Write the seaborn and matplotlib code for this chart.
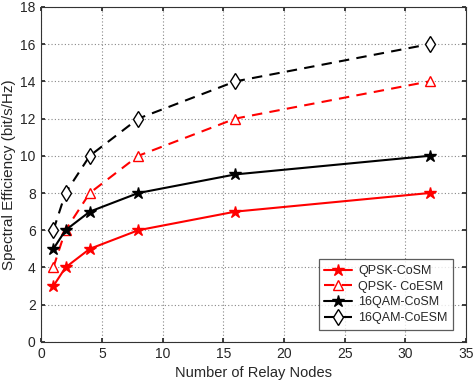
import matplotlib
matplotlib.use("Agg")
import matplotlib.pyplot as plt
import seaborn as sns
import pandas as pd

relay_nodes = [1, 2, 4, 8, 16, 32]
qpsk_cosm = [3, 4, 5, 6, 7, 8]
qpsk_coesm = [4, 6, 8, 10, 12, 14]
qam16_cosm = [5, 6, 7, 8, 9, 10]
qam16_coesm = [6, 8, 10, 12, 14, 16]
labels = ["QPSK-CoSM", "QPSK- CoESM", "16QAM-CoSM", "16QAM-CoESM"]

sns.set_theme(style="white")
plt.rcParams['font.family'] = ['Liberation Sans', 'DejaVu Sans']

fig = plt.figure(figsize=(4.74, 3.85), dpi=100)
ax = fig.add_axes([0.087, 0.112, 0.896, 0.87])

series = [qpsk_cosm, qpsk_coesm, qam16_cosm, qam16_coesm]
styles = [
    dict(color="red", linestyle="-", marker="*", markersize=9, mfc="red", mec="red"),
    dict(color="red", linestyle=(0, (5, 3.5)), marker="^", markersize=7, mfc="white", mec="red"),
    dict(color="black", linestyle="-", marker="*", markersize=9, mfc="black", mec="black"),
    dict(color="black", linestyle=(0, (5, 3.5)), marker="d", markersize=8, mfc="white", mec="black"),
]
for vals, lab, st in zip(series, labels, styles):
    df = pd.DataFrame({"x": relay_nodes, "y": vals})
    sns.lineplot(data=df, x="x", y="y", ax=ax, label=lab, linewidth=1.5,
                 markeredgewidth=1.0, **st)

ax.set_xlim(0, 35)
ax.set_ylim(0, 18)
ax.set_xticks(range(0, 36, 5))
ax.set_yticks(range(0, 19, 2))
ax.grid(True, linestyle=(0, (1, 2)), color="#888888", linewidth=0.8)
for s in ax.spines.values():
    s.set_color("#333333")
    s.set_linewidth(0.8)
ax.tick_params(axis="both", labelsize=10, direction="in", length=3, pad=4,
               left=True, bottom=True, right=True, top=True)
ax.set_xlabel("Number of Relay Nodes", fontsize=10.5, labelpad=3)
ax.set_ylabel("Spectral Efficiency (bit/s/Hz)", fontsize=11, labelpad=3)

leg = ax.legend(loc="lower right", bbox_to_anchor=(0.97, 0.036), borderaxespad=0,
                fontsize=9, frameon=True, fancybox=False, edgecolor="#333333",
                handlelength=2.2, handletextpad=0.5, borderpad=0.45,
                labelspacing=0.3)
leg.get_frame().set_linewidth(0.9)

fig.savefig("out.png", dpi=100)
